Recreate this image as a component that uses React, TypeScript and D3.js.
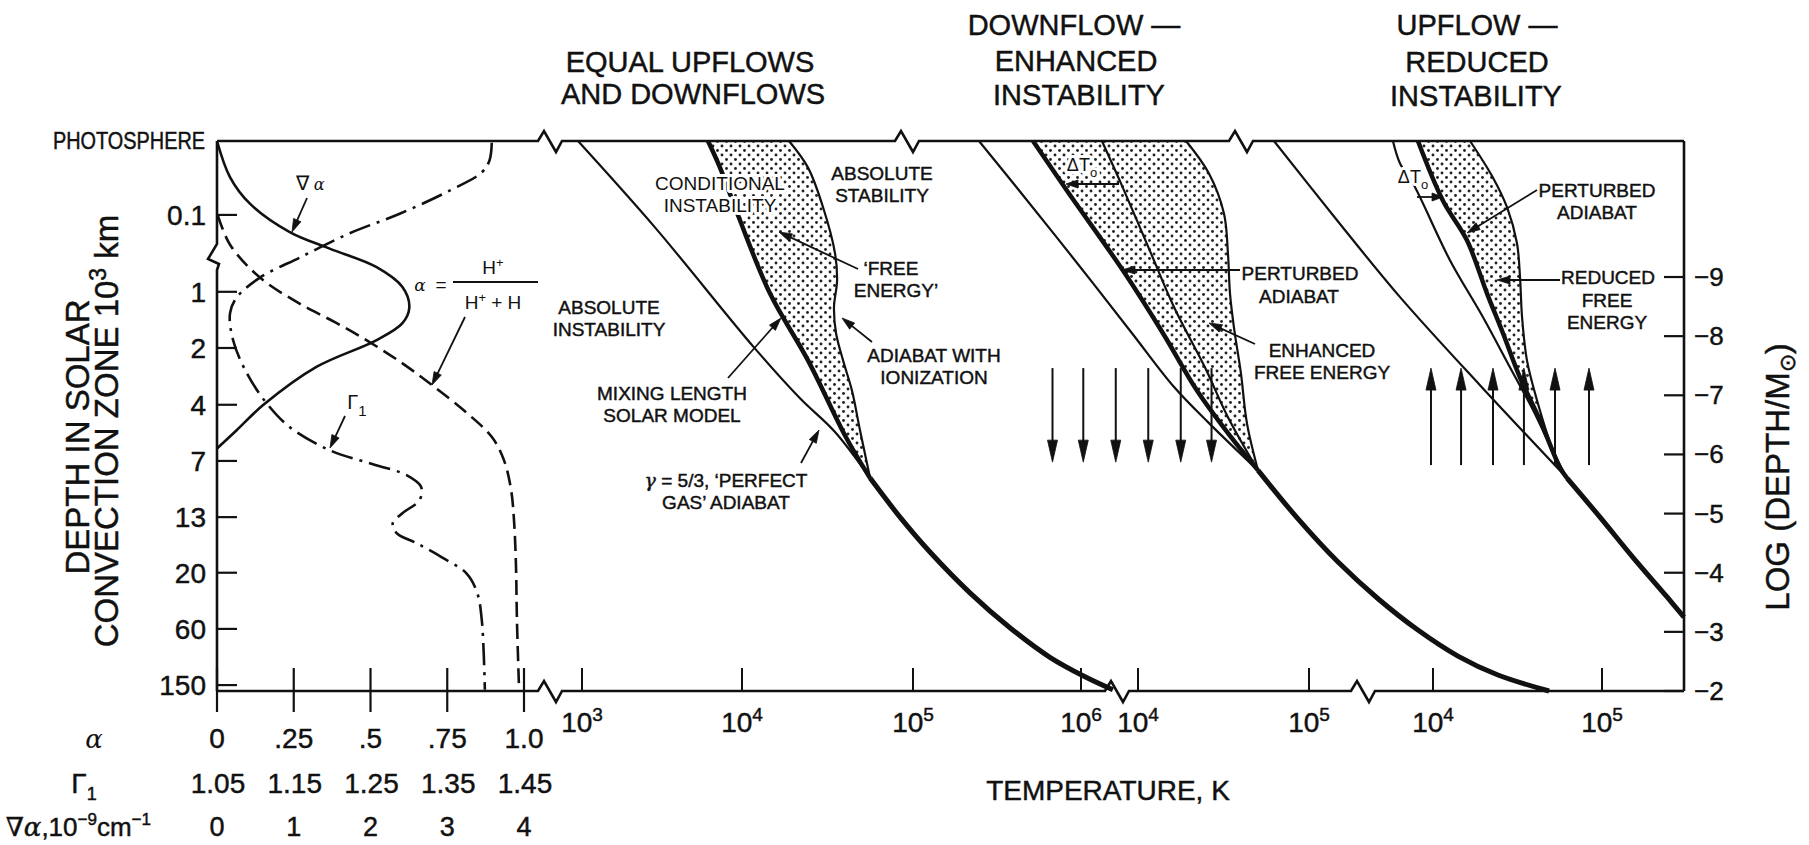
import React from "react";
import * as d3 from "d3";

// ---------- DATA ----------
// left panel vertical axis: depth (10^3 km) labels and their LOG(DEPTH/M) positions
const depthTickLabels = ["0.1", "1", "2", "4", "7", "13", "20", "60", "150"];
const depthTickLogM = [-10.05, -8.75, -7.8, -6.84, -5.89, -4.94, -4.0, -3.05, -2.1];
const logDepthTicks = [-9, -8, -7, -6, -5, -4, -3, -2];
const alphaTicks = [0, 0.25, 0.5, 0.75, 1];
const alphaTickLabels = ["0", ".25", ".5", ".75", "1.0"];
const gammaTickLabels = ["1.05", "1.15", "1.25", "1.35", "1.45"];
const gradTickLabels = ["0", "1", "2", "3", "4"];

// ∇α (10^-9 cm^-1) vs LOG(DEPTH/M)
const gradAlpha: [number, number][] = [
  [0, -11.3], [0.169, -10.69], [0.429, -10.24], [0.948, -9.76], [1.468, -9.48], [2.074, -9.17],
  [2.416, -8.83], [2.506, -8.49], [2.416, -8.22], [2.074, -7.93], [1.295, -7.48], [0.597, -6.83],
  [0.256, -6.41], [0, -6.1],
];
// α = H+/(H+ + H)
const ionAlpha: [number, number][] = [
  [0.003, -10.04], [0.042, -9.55], [0.14, -8.99], [0.269, -8.55], [0.39, -8.22], [0.497, -7.9],
  [0.604, -7.54], [0.701, -7.17], [0.812, -6.71], [0.896, -6.29], [0.935, -5.9], [0.958, -5.4],
  [0.968, -4.84], [0.974, -4.09], [0.977, -3.2], [0.984, -2.02],
];
// Γ1
const gamma1: [number, number][] = [
  [1.408, -11.27], [1.405, -10.97], [1.395, -10.77], [1.353, -10.46], [1.288, -10.07], [1.223, -9.74],
  [1.158, -9.33], [1.106, -8.99], [1.076, -8.66], [1.067, -8.39], [1.071, -7.93], [1.089, -7.37],
  [1.115, -6.86], [1.145, -6.46], [1.197, -6.07], [1.249, -5.85], [1.297, -5.65], [1.316, -5.45],
  [1.314, -5.23], [1.292, -5.01], [1.279, -4.84], [1.284, -4.67], [1.31, -4.5], [1.343, -4.26],
  [1.375, -3.99], [1.389, -3.66], [1.395, -3.2], [1.399, -2.02],
];

// Panel 1: equal upflows and downflows  [log T, LOG(DEPTH/M)]
const p1PerfectGas: [number, number][] = [[2.975, -11.3], [3.456, -9.84], [4.07, -7.81], [4.339, -6.95], [4.544, -6.38], [4.749, -5.6]];
const p1Model: [number, number][] = [[3.7875, -11.3], [3.8625, -10.85], [3.98, -10.01], [4.164, -8.72], [4.386, -7.59], [4.608, -6.29], [4.749, -5.6]];
const p1IonAdiabat: [number, number][] = [[4.275, -11.3], [4.386, -10.85], [4.474, -10.18], [4.544, -9.4], [4.556, -8.94], [4.538, -8.49], [4.55, -8.05], [4.591, -7.59], [4.643, -7.08], [4.69, -6.41], [4.749, -5.6]];
const p1Deep: [number, number][] = [[4.749, -5.6], [4.924, -4.94], [5.101, -4.35], [5.339, -3.66], [5.577, -3.07], [5.815, -2.57], [6.024, -2.24], [6.19, -2.02]];

// Panel 2: downflow - enhanced instability
const p2PerfectGas: [number, number][] = [[3.07, -11.3], [3.292, -10.51], [3.632, -9.28], [3.965, -8.05], [4.211, -7.14], [4.415, -6.53], [4.702, -5.73]];
const p2Perturbed: [number, number][] = [[3.386, -11.3], [3.585, -10.46], [3.924, -9.06], [4.146, -8.05], [4.345, -7.08], [4.526, -6.36], [4.702, -5.73]];
const p2Adiabat: [number, number][] = [[3.789, -11.3], [3.901, -10.58], [4.076, -9.4], [4.211, -8.49], [4.392, -7.47], [4.526, -6.63], [4.702, -5.73]];
const p2IonAdiabat: [number, number][] = [[4.281, -11.3], [4.415, -10.75], [4.503, -10.07], [4.526, -9.4], [4.538, -8.72], [4.561, -8.15], [4.602, -7.37], [4.637, -6.53], [4.702, -5.73]];
const p2Deep: [number, number][] = [[4.702, -5.73], [4.936, -4.91], [5.17, -4.18], [5.404, -3.56], [5.637, -3.03], [5.871, -2.59], [6.105, -2.27], [6.404, -2.0]];

// Panel 3: upflow - reduced instability
const p3PerfectGas: [number, number][] = [[3.059, -11.3], [3.432, -9.96], [3.805, -8.66], [4.278, -7.17], [4.793, -5.6]];
const p3Adiabat: [number, number][] = [[3.763, -11.3], [3.805, -10.92], [3.882, -10.58], [4.101, -9.28], [4.296, -8.32], [4.456, -7.47], [4.592, -6.75], [4.734, -5.9], [4.793, -5.6]];
const p3Perturbed: [number, number][] = [[3.911, -11.3], [4.059, -10.29], [4.201, -9.62], [4.32, -8.72], [4.414, -8.05], [4.515, -7.3], [4.633, -6.58], [4.751, -5.78], [4.793, -5.6]];
const p3IonAdiabat: [number, number][] = [[4.219, -11.3], [4.355, -10.68], [4.438, -10.18], [4.497, -9.57], [4.515, -8.99], [4.527, -8.32], [4.556, -7.59], [4.615, -6.92], [4.71, -6.07], [4.793, -5.6]];
const p3Deep: [number, number][] = [[4.793, -5.6], [4.988, -4.94], [5.183, -4.26], [5.385, -3.59], [5.485, -3.25]];

const p1TempTicks = [3, 4, 5, 6];
const p2TempTicks = [4, 5];
const p3TempTicks = [4, 5];

// flow arrows (log T within panel, LOG(DEPTH/M) of tail and head)
const downflowT = [3.5, 3.68, 3.87, 4.06, 4.25, 4.43];
const downflowDepth: [number, number] = [-7.46, -5.87];
const upflowT = [3.988, 4.166, 4.355, 4.538, 4.722, 4.923];
const upflowDepth: [number, number] = [-5.82, -7.46];

// ---------- HELPERS ----------
function arrowParts(x1: number, y1: number, x2: number, y2: number, len = 13, w = 4) {
  const dx = x2 - x1, dy = y2 - y1, L = Math.hypot(dx, dy);
  const ux = dx / L, uy = dy / L;
  const bx = x2 - ux * len, by = y2 - uy * len;
  const px = -uy * w, py = ux * w;
  return {
    shaft: `M${x1},${y1}L${bx + ux * 2},${by + uy * 2}`,
    head: `M${x2},${y2}L${bx + px},${by + py}L${bx - px},${by - py}Z`,
  };
}

const Arrow = ({ x1, y1, x2, y2, len = 13, w = 4, sw = 1.8 }: any) => {
  const a = arrowParts(x1, y1, x2, y2, len, w);
  return (
    <g>
      <path d={a.shaft} stroke="#111" strokeWidth={sw} fill="none" />
      <path d={a.head} fill="#111" stroke="#111" strokeWidth={0.8} />
    </g>
  );
};

function zig(x: number, y: number) {
  return `L${x - 12},${y}L${x - 6},${y - 10}L${x + 6},${y + 11}L${x + 12},${y}`;
}

export default function App() {
  const top = 141, bottom = 691, leftX = 217, rightX = 1684;
  const yS = d3.scaleLinear().domain([-11.3, -2]).range([top, bottom]);
  const xA = d3.scaleLinear().domain([0, 1]).range([leftX, 524]);
  const xG = d3.scaleLinear().domain([0, 4]).range([leftX, 524]);
  const xGam = d3.scaleLinear().domain([1.05, 1.45]).range([leftX, 524]);
  const xP1 = d3.scaleLinear().domain([3, 4, 5, 6]).range([582, 742, 913, 1081]);
  const xP2 = d3.scaleLinear().domain([4, 5]).range([1138, 1309]);
  const xP3 = d3.scaleLinear().domain([4, 5]).range([1433, 1602]);

  const mk = (xs: any) =>
    d3.line<[number, number]>().x((d) => xs(d[0])).y((d) => yS(d[1])).curve(d3.curveCatmullRom.alpha(0.5));
  const band = (xs: any, a: [number, number][], b: [number, number][]) => {
    const g = mk(xs);
    return (g(a) as string) + (g(b.slice().reverse()) as string).replace(/^M/, "L") + "Z";
  };

  const font = "'Liberation Sans', Arial, Helvetica, sans-serif";
  const ink = "#111";
  const topZigs = [550, 907, 1241];
  const botZigs = [550, 1117, 1363];
  let topPath = `M${leftX},${top}`;
  topZigs.forEach((z) => (topPath += zig(z, top)));
  topPath += `L${rightX},${top}`;
  let botPath = `M${leftX},${bottom}`;
  botZigs.forEach((z) => (botPath += zig(z, bottom)));
  botPath += `L${rightX},${bottom}`;
  const leftAxis = `M${leftX},${top}L${leftX},244L208,259L219,264L${leftX},270L${leftX},${bottom}`;

  const halo = { stroke: "#fff", strokeWidth: 6, paintOrder: "stroke" as any, strokeLinejoin: "round" as any };
  const lab = (x: number, y: number, t: string, size = 19, extra: any = {}) => (
    <text x={x} y={y + size * 0.36} textAnchor="middle" fontSize={size} {...extra}>{t}</text>
  );
  const tStroke = { stroke: ink, strokeWidth: 0.45 };

  return (
    <svg width={1809} height={845} style={{ display: "block", position: "absolute", left: 0, top: 0 }} fontFamily={font} fill={ink}>
      <defs>
        <pattern id="dots" width="9" height="9" patternUnits="userSpaceOnUse">
          <circle cx="2" cy="2" r="1.45" fill="#222" />
          <circle cx="6.5" cy="6.5" r="1.45" fill="#222" />
        </pattern>
      </defs>
      <rect x={0} y={0} width={1809} height={845} fill="#fff" />

      <g {...tStroke}>
        {/* titles */}
        {lab(690, 62, "EQUAL UPFLOWS", 29)}
        {lab(693, 94, "AND DOWNFLOWS", 29)}
        {lab(1074, 25, "DOWNFLOW —", 29)}
        {lab(1076, 61, "ENHANCED", 29)}
        {lab(1079, 95, "INSTABILITY", 29)}
        {lab(1477, 25, "UPFLOW —", 29)}
        {lab(1477, 62, "REDUCED", 29)}
        {lab(1476, 96, "INSTABILITY", 29)}
      </g>

      {/* dotted regions */}
      <path d={band(xP1, p1Model, p1IonAdiabat)} fill="url(#dots)" />
      <path d={band(xP2, p2Perturbed, p2IonAdiabat)} fill="url(#dots)" />
      <path d={band(xP3, p3Perturbed, p3IonAdiabat)} fill="url(#dots)" />

      {/* frame */}
      <path d={topPath} fill="none" stroke={ink} strokeWidth={2.6} />
      <path d={botPath} fill="none" stroke={ink} strokeWidth={2.6} />
      <path d={leftAxis} fill="none" stroke={ink} strokeWidth={2.6} />
      <line x1={rightX} y1={top} x2={rightX} y2={bottom} stroke={ink} strokeWidth={2.6} />

      {/* left axis ticks + labels */}
      {depthTickLogM.map((v, i) => (
        <g key={"dt" + i}>
          <line x1={leftX} x2={leftX + 20} y1={yS(v)} y2={yS(v)} stroke={ink} strokeWidth={2.2} />
          <text x={206} y={yS(v) + 10} textAnchor="end" fontSize={28} {...tStroke}>{depthTickLabels[i]}</text>
        </g>
      ))}
      <text x={205} y={149} textAnchor="end" fontSize={23} textLength={152} lengthAdjust="spacingAndGlyphs" {...tStroke}>PHOTOSPHERE</text>

      {/* right axis */}
      {logDepthTicks.map((v) => (
        <g key={"rt" + v}>
          <line x1={rightX - 20} x2={rightX} y1={yS(v)} y2={yS(v)} stroke={ink} strokeWidth={2.2} />
          <text x={1694} y={yS(v) + 9} fontSize={26} {...tStroke}>{"−" + Math.abs(v)}</text>
        </g>
      ))}
      <text transform={`translate(1777,477) rotate(-90)`} textAnchor="middle" dy="0.36em" fontSize={33} {...tStroke}>
        LOG (DEPTH/M<tspan dy="6" fontSize={22}>⊙</tspan><tspan dy="-6">)</tspan>
      </text>

      {/* left title */}
      <text transform={`translate(77,437) rotate(-90)`} textAnchor="middle" dy="0.36em" fontSize={33} {...tStroke}>DEPTH IN SOLAR</text>
      <text transform={`translate(106,431) rotate(-90)`} textAnchor="middle" dy="0.36em" fontSize={33} {...tStroke}>
        CONVECTION ZONE 10<tspan dy="-12" fontSize={23}>3</tspan><tspan dy="12"> km</tspan>
      </text>

      {/* left bottom axis ticks + label rows */}
      {alphaTicks.map((a, i) => (
        <g key={"at" + i}>
          <line x1={xA(a)} x2={xA(a)} y1={668} y2={712} stroke={ink} strokeWidth={2.2} />
          <text x={xA(a)} y={748} textAnchor="middle" fontSize={28} {...tStroke}>{alphaTickLabels[i]}</text>
          <text x={xA(a) + 1} y={793} textAnchor="middle" fontSize={28} {...tStroke}>{gammaTickLabels[i]}</text>
          <text x={xA(a)} y={836} textAnchor="middle" fontSize={27} {...tStroke}>{gradTickLabels[i]}</text>
        </g>
      ))}
      <text x={94} y={748} textAnchor="middle" fontSize={26} fontStyle="italic" fontFamily="'DejaVu Serif', serif">α</text>
      <text x={84} y={793} textAnchor="middle" fontSize={28} {...tStroke}>Γ<tspan dy="7" fontSize={18}>1</tspan></text>
      <text x={151} y={836} textAnchor="end" fontSize={26} {...tStroke}>
        <tspan fontStyle="italic" fontFamily="'DejaVu Serif', serif">∇α</tspan>,10<tspan dy="-11" fontSize={17}>−9</tspan><tspan dy="11">cm</tspan><tspan dy="-11" fontSize={17}>−1</tspan>
      </text>

      {/* main bottom axis ticks */}
      {[
        { s: xP1, t: p1TempTicks },
        { s: xP2, t: p2TempTicks },
        { s: xP3, t: p3TempTicks },
      ].map((p, k) =>
        p.t.map((t) => (
          <g key={"tt" + k + t}>
            <line x1={p.s(t)} x2={p.s(t)} y1={bottom} y2={bottom - 23} stroke={ink} strokeWidth={2} />
            <text x={p.s(t)} y={732} textAnchor="middle" fontSize={28} {...tStroke}>
              10<tspan dy="-11" fontSize={19}>{t}</tspan>
            </text>
          </g>
        ))
      )}
      <text x={1108} y={800} textAnchor="middle" fontSize={28} {...tStroke}>TEMPERATURE, K</text>

      {/* left panel curves */}
      <path d={mk(xG)(gradAlpha) as string} fill="none" stroke={ink} strokeWidth={2.6} />
      <path d={mk(xA)(ionAlpha) as string} fill="none" stroke={ink} strokeWidth={2.6} strokeDasharray="15 7" />
      <path d={mk(xGam)(gamma1) as string} fill="none" stroke={ink} strokeWidth={2.6} strokeDasharray="22 7 3 7" />

      {/* left panel annotations */}
      <text x={310} y={190} textAnchor="middle" fontSize={20}>∇<tspan fontStyle="italic" fontFamily="'DejaVu Serif', serif" fontSize={16}> α</tspan></text>
      <Arrow x1={307} y1={198} x2={292} y2={232} />
      <text x={420} y={291} textAnchor="middle" fontSize={17} fontStyle="italic" fontFamily="'DejaVu Serif', serif">α</text>
      <text x={441} y={291} textAnchor="middle" fontSize={19}>=</text>
      <line x1={453} x2={538} y1={282} y2={282} stroke={ink} strokeWidth={2} />
      <text x={493} y={274} textAnchor="middle" fontSize={19}>H<tspan dy="-7" fontSize={13}>+</tspan></text>
      <text x={493} y={309} textAnchor="middle" fontSize={19}>H<tspan dy="-7" fontSize={13}>+</tspan><tspan dy="7">  +  H</tspan></text>
      <Arrow x1={465} y1={317} x2={432} y2={385} />
      <text x={357} y={409} textAnchor="middle" fontSize={20}>Γ<tspan dy="7" fontSize={15}>1</tspan></text>
      <Arrow x1={345} y1={416} x2={330} y2={448} />

      {/* panel 1 curves */}
      <path d={mk(xP1)(p1PerfectGas) as string} fill="none" stroke={ink} strokeWidth={2.2} />
      <path d={mk(xP1)(p1IonAdiabat) as string} fill="none" stroke={ink} strokeWidth={2.2} />
      <path d={mk(xP1)(p1Model) as string} fill="none" stroke={ink} strokeWidth={4.5} />
      <path d={mk(xP1)(p1Deep) as string} fill="none" stroke={ink} strokeWidth={5} />

      {/* panel 2 curves */}
      <path d={mk(xP2)(p2PerfectGas) as string} fill="none" stroke={ink} strokeWidth={2.2} />
      <path d={mk(xP2)(p2Adiabat) as string} fill="none" stroke={ink} strokeWidth={2.2} />
      <path d={mk(xP2)(p2IonAdiabat) as string} fill="none" stroke={ink} strokeWidth={2.2} />
      <path d={mk(xP2)(p2Perturbed) as string} fill="none" stroke={ink} strokeWidth={4.5} />
      <path d={mk(xP2)(p2Deep) as string} fill="none" stroke={ink} strokeWidth={5} />

      {/* panel 3 curves */}
      <path d={mk(xP3)(p3PerfectGas) as string} fill="none" stroke={ink} strokeWidth={2.2} />
      <path d={mk(xP3)(p3Adiabat) as string} fill="none" stroke={ink} strokeWidth={2.2} />
      <path d={mk(xP3)(p3IonAdiabat) as string} fill="none" stroke={ink} strokeWidth={2.2} />
      <path d={mk(xP3)(p3Perturbed) as string} fill="none" stroke={ink} strokeWidth={4.5} />
      <path d={mk(xP3)(p3Deep) as string} fill="none" stroke={ink} strokeWidth={5} />

      {/* flow arrows */}
      {downflowT.map((t, i) => (
        <Arrow key={"df" + i} x1={xP2(t)} y1={yS(downflowDepth[0])} x2={xP2(t)} y2={yS(downflowDepth[1])} len={22} w={5} sw={2} />
      ))}
      {upflowT.map((t, i) => (
        <Arrow key={"uf" + i} x1={xP3(t)} y1={yS(upflowDepth[0])} x2={xP3(t)} y2={yS(upflowDepth[1])} len={22} w={5} sw={2} />
      ))}

      {/* panel annotations */}
      <g {...tStroke}>
        {lab(720, 183, "CONDITIONAL", 19, halo)}
        {lab(720, 205, "INSTABILITY", 19, halo)}
        {lab(882, 173, "ABSOLUTE", 19)}
        {lab(882, 195, "STABILITY", 19)}
        {lab(891, 268, "‘FREE", 19)}
        {lab(896, 290, "ENERGY’", 19)}
        {lab(609, 307, "ABSOLUTE", 19)}
        {lab(609, 329, "INSTABILITY", 19)}
        {lab(934, 355, "ADIABAT WITH", 19)}
        {lab(934, 377, "IONIZATION", 19)}
        {lab(672, 393, "MIXING LENGTH", 19)}
        {lab(672, 415, "SOLAR MODEL", 19)}
        <text x={726} y={487} textAnchor="middle" fontSize={19}>
          <tspan fontStyle="italic" fontFamily="'DejaVu Serif', serif">γ</tspan> = 5/3, ‘PERFECT
        </text>
        {lab(726, 502, "GAS’ ADIABAT", 19)}
        {lab(1300, 273, "PERTURBED", 19)}
        {lab(1299, 296, "ADIABAT", 19)}
        {lab(1322, 350, "ENHANCED", 19)}
        {lab(1322, 372, "FREE ENERGY", 19)}
        {lab(1597, 190, "PERTURBED", 19)}
        {lab(1597, 212, "ADIABAT", 19)}
        {lab(1608, 277, "REDUCED", 19)}
        {lab(1607, 300, "FREE", 19)}
        {lab(1607, 322, "ENERGY", 19)}
      </g>
      <Arrow x1={858} y1={269} x2={779} y2={232} />
      <Arrow x1={872} y1={342} x2={842} y2={318} />
      <Arrow x1={728} y1={378} x2={781} y2={318} />
      <Arrow x1={801} y1={463} x2={819} y2={430} />

      {/* panel 2 annotations */}
      <text x={1082} y={171} textAnchor="middle" fontSize={18} {...halo}>ΔT<tspan dy="6" fontSize={13}>o</tspan></text>
      <Arrow x1={1119} y1={184} x2={1066} y2={184} len={12} w={4} />
      <Arrow x1={1240} y1={270} x2={1122} y2={270} />
      <Arrow x1={1255} y1={344} x2={1209} y2={323} />

      {/* panel 3 annotations */}
      <text x={1413} y={183} textAnchor="middle" fontSize={18} {...halo}>ΔT<tspan dy="6" fontSize={13}>o</tspan></text>
      <Arrow x1={1417} y1={197} x2={1443} y2={197} len={11} w={4} />
      <Arrow x1={1537} y1={190} x2={1467} y2={233} />
      <Arrow x1={1560} y1={280} x2={1497} y2={280} />
    </svg>
  );
}
